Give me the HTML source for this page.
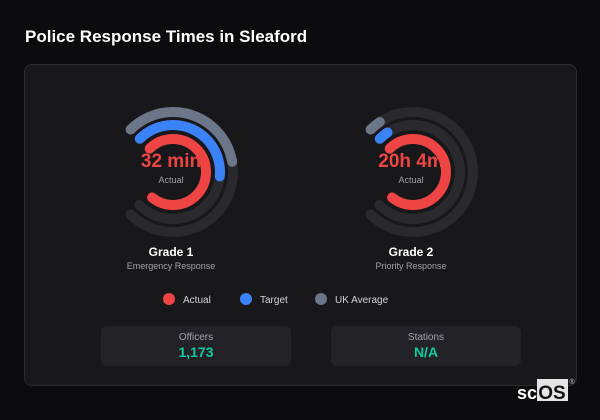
<!DOCTYPE html>
<html><head><style>
body{margin:0;width:600px;height:420px;background:#0c0c10;font-family:"Liberation Sans",sans-serif;overflow:hidden;position:relative}
.title{position:absolute;left:25px;top:27px;color:#fff;font-weight:bold;font-size:17px}
.panel{position:absolute;left:24px;top:64px;width:551px;height:320px;background:#18181b;border:1px solid #2c2c31;border-radius:8px}
.box{position:absolute;top:326px;width:190px;height:40px;background:#232327;border-radius:6px;text-align:center}
.box .l{color:#a1a1aa;font-size:10px;margin-top:6px}
.box .v{color:#10c9a0;font-size:14px;font-weight:bold;margin-top:1px}
</style></head><body>
<div class="title">Police Response Times in Sleaford</div>
<div class="panel"></div>
<svg width="600" height="420" style="position:absolute;left:0;top:0">
<g font-family="Liberation Sans, sans-serif" text-anchor="middle">
<!-- Grade 1 -->
<text x="171" y="167" fill="#ef4444" font-size="19" font-weight="bold">32 min</text>
<text x="171" y="183" fill="#a1a1aa" font-size="9">Actual</text>
<g transform="translate(173,172) rotate(-135)" fill="none" stroke-width="10" stroke-linecap="round">
<circle r="60" stroke="#2a2a2e" stroke-dasharray="282.7 1000"/>
<circle r="47" stroke="#2a2a2e" stroke-dasharray="221.5 1000"/>
<circle r="60" stroke="#6b7789" stroke-dasharray="131 1000"/>
<circle r="47" stroke="#3b82f6" stroke-dasharray="115 1000"/>
<circle r="33" stroke="#ef4444" stroke-dasharray="152 1000"/>
</g>
<text x="171" y="256" fill="#fff" font-size="12" font-weight="bold">Grade 1</text>
<text x="171" y="269" fill="#a1a1aa" font-size="9">Emergency Response</text>
<!-- Grade 2 -->
<text x="411" y="167" fill="#ef4444" font-size="19" font-weight="bold">20h 4m</text>
<text x="411" y="183" fill="#a1a1aa" font-size="9">Actual</text>
<g transform="translate(413,172) rotate(-135)" fill="none" stroke-width="10" stroke-linecap="round">
<circle r="60" stroke="#2a2a2e" stroke-dasharray="282.7 1000"/>
<circle r="47" stroke="#2a2a2e" stroke-dasharray="221.5 1000"/>
<circle r="60" stroke="#6b7789" stroke-dasharray="12 1000"/>
<circle r="47" stroke="#3b82f6" stroke-dasharray="10 1000"/>
<circle r="33" stroke="#ef4444" stroke-dasharray="152 1000"/>
</g>
<text x="411" y="256" fill="#fff" font-size="12" font-weight="bold">Grade 2</text>
<text x="411" y="269" fill="#a1a1aa" font-size="9">Priority Response</text>
<!-- legend -->
<g text-anchor="start" font-size="10" fill="#d4d4d8">
<circle cx="169" cy="299" r="6" fill="#ef4444"/><text x="183" y="303">Actual</text>
<circle cx="246" cy="299" r="6" fill="#3b82f6"/><text x="260" y="303">Target</text>
<circle cx="321" cy="299" r="6" fill="#6b7789"/><text x="335" y="303">UK Average</text>
</g>
<!-- logo -->
<text x="517" y="399" text-anchor="start" fill="#fff" font-size="18" font-weight="bold">sc</text>
<rect x="537" y="379" width="31" height="22" fill="#e5e5e5"/>
<text x="552" y="399" fill="#111" font-size="19" font-weight="bold">OS</text>
<text x="572" y="384" fill="#ccc" font-size="7">®</text>
</g>
</svg>
<div class="box" style="left:101px"><div class="l">Officers</div><div class="v">1,173</div></div>
<div class="box" style="left:331px"><div class="l">Stations</div><div class="v">N/A</div></div>
</body></html>
